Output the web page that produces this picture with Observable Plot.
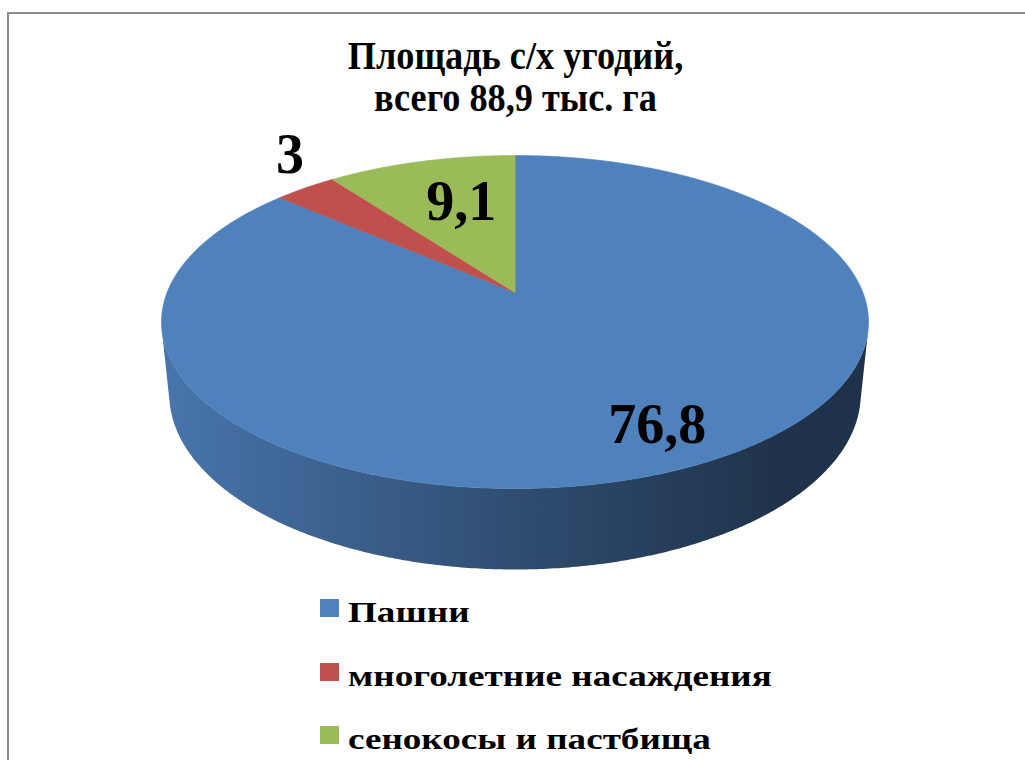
<!DOCTYPE html>
<html>
<head>
<meta charset="utf-8">
<script src="https://cdn.jsdelivr.net/npm/d3@7"></script>
<script src="https://cdn.jsdelivr.net/npm/@observablehq/plot@0.6"></script>
<style>
  html, body { margin: 0; padding: 0; width: 1025px; height: 760px; overflow: hidden; background: #fff; }
  body { position: relative; font-family: "Liberation Serif", Tinos, "DejaVu Serif", serif; font-weight: bold; }
  #frame { position: absolute; left: 7px; top: 12px; width: 1100px; height: 800px;
           border-left: 2px solid #8c8c8c; border-top: 2px solid #8c8c8c; }
  #title { position: absolute; left: 0; width: 1031px; top: 35px; text-align: center;
           font-size: 39px; line-height: 42px; color: #000; }
  #title div { transform: scaleX(0.93); transform-origin: 515.5px 0; }
  #chart { position: absolute; left: 0; top: 0; }
  #legend { position: absolute; left: 320px; top: 597px; font-size: 29px; line-height: 30px; color: #000; }
  .row { height: 63.5px; display: flex; align-items: flex-start; white-space: nowrap; }
  .sw { width: 19px; height: 18px; margin-top: 2px; margin-right: 9px; flex: none; }
  .row span { display: inline-block; transform: scaleX(1.28); transform-origin: 0 0; }
</style>
</head>
<body>
<div id="frame"></div>
<div id="title"></div>
<div id="chart"></div>
<div id="legend"></div>
<script>
// ---- data ----
const categories = ["Пашни", "многолетние насаждения", "сенокосы и пастбища"];
const values = [76.8, 3, 9.1];
const valueLabels = ["76,8", "3", "9,1"];
const colors = ["#4f81bd", "#c0504d", "#9bbb59"];
const titleLines = ["Площадь с/х угодий,", "всего 88,9 тыс. га"];

// ---- 3D perspective model of the pie ----
const W = 1025, H = 590;
const cx = 514.5, cy = 292;
const alpha = Math.asin(0.4636), D = 5.0, F = 1739.7, T = 0.2357;
const sa = Math.sin(alpha), ca = Math.cos(alpha);
function proj(theta, r, Yw) {
  const X = r * Math.sin(theta), Z = r * Math.cos(theta);
  const depth = D - Yw * sa + Z * ca;
  const up = Yw * ca + Z * sa;
  return [cx + F * X / depth, cy - F * up / depth];
}
const thSil = Math.acos(-1 / (D * ca)); // silhouette angle of the side wall
const visA = thSil, visB = 2 * Math.PI - thSil;

const arcs = d3.pie().sort(null).value(d => d)(values);
const step = Math.PI / 360;

// top faces
const topPts = [];
arcs.forEach((a, i) => {
  const [x0, y0] = proj(0, 0, 0);
  topPts.push({id: i, x: x0, y: y0, fill: colors[i]});
  const n = Math.max(2, Math.ceil((a.endAngle - a.startAngle) / step));
  for (let k = 0; k <= n; k++) {
    const th = a.startAngle + (a.endAngle - a.startAngle) * k / n;
    const [x, y] = proj(th, 1, 0);
    topPts.push({id: i, x, y, fill: colors[i]});
  }
});

// side walls (front visible part), one polygon per slice, shaded with a gradient
const wallPts = [];
arcs.forEach((a, i) => {
  const s = Math.max(a.startAngle, visA), e = Math.min(a.endAngle, visB);
  if (s >= e) return;
  const n = Math.ceil((e - s) / step);
  for (let k = 0; k <= n; k++) {
    const [x, y] = proj(s + (e - s) * k / n, 1, 0);
    wallPts.push({id: i, x, y, fill: `url(#wall${i})`});
  }
  for (let k = n; k >= 0; k--) {
    const [x, y] = proj(s + (e - s) * k / n, 1, -T);
    wallPts.push({id: i, x, y, fill: `url(#wall${i})`});
  }
});

// data labels
const labelR = [0.84, 1.15, 0.62];
const labelOff = [[2, -10], [12, -19], [8, -4]];
const labelData = arcs.map((a, i) => {
  const mid = (a.startAngle + a.endAngle) / 2;
  const [x, y] = proj(mid, labelR[i], 0);
  return {x: x + labelOff[i][0], y: y + labelOff[i][1], text: valueLabels[i]};
});

const plot = Plot.plot({
  width: W, height: H, margin: 0,
  style: {background: "none", overflow: "visible"},
  x: {type: "linear", domain: [0, W], range: [0, W], axis: null},
  y: {type: "linear", domain: [0, H], range: [0, H], axis: null},
  color: {type: "identity"},
  marks: [
    Plot.line(wallPts, {x: "x", y: "y", z: "id", fill: "fill", stroke: null, curve: "linear-closed"}),
    Plot.line(topPts, {x: "x", y: "y", z: "id", fill: "fill", stroke: "fill", strokeWidth: 0.6, curve: "linear-closed"}),
    Plot.text(labelData, {x: "x", y: "y", text: "text", fontSize: 56, fontWeight: "bold",
      fontFamily: "Liberation Serif, Tinos, DejaVu Serif, serif", fill: "#000"})
  ]
});

// gradient definitions for the shaded side walls
const ns = "http://www.w3.org/2000/svg";
const defs = document.createElementNS(ns, "defs");
const stops = [[0, 0.91], [0.5, 0.6], [0.88, 0.39], [1, 0.39]];
colors.forEach((c, i) => {
  const g = document.createElementNS(ns, "linearGradient");
  g.setAttribute("id", `wall${i}`);
  g.setAttribute("gradientUnits", "userSpaceOnUse");
  g.setAttribute("x1", 161); g.setAttribute("x2", 868); g.setAttribute("y1", 0); g.setAttribute("y2", 0);
  const b = d3.rgb(c);
  stops.forEach(([o, f]) => {
    const s = document.createElementNS(ns, "stop");
    s.setAttribute("offset", o);
    s.setAttribute("stop-color", d3.rgb(b.r * f, b.g * f, b.b * f).formatHex());
    g.appendChild(s);
  });
  defs.appendChild(g);
});
plot.insertBefore(defs, plot.firstChild);
document.getElementById("chart").appendChild(plot);

// title
const tEl = document.getElementById("title");
titleLines.forEach(t => { const d = document.createElement("div"); d.textContent = t; tEl.appendChild(d); });

// legend
const lg = document.getElementById("legend");
categories.forEach((c, i) => {
  const row = document.createElement("div"); row.className = "row";
  const sw = document.createElement("div"); sw.className = "sw"; sw.style.background = colors[i];
  const tx = document.createElement("span"); tx.textContent = c;
  row.appendChild(sw); row.appendChild(tx); lg.appendChild(row);
});
</script>
</body>
</html>
